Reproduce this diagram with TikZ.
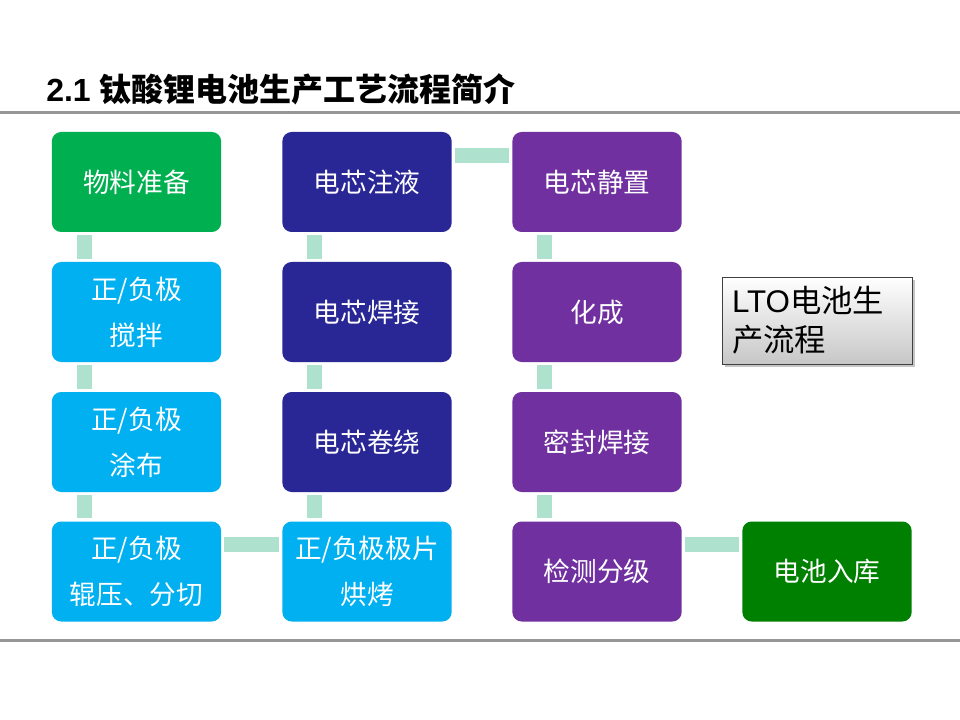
\documentclass[tikz,border=0pt]{standalone}
\usepackage{fontspec}
\setmainfont{Liberation Sans}
\newfontfamily\cjk{Noto Sans CJK SC}
\usetikzlibrary{calc,shadows}
\definecolor{cgreen}{HTML}{00B050}
\definecolor{clblue}{HTML}{00B0F0}
\definecolor{cdblue}{RGB}{41,38,149}
\definecolor{cpurple}{HTML}{7030A0}
\definecolor{cdgreen}{HTML}{008000}
\definecolor{connc}{RGB}{174,226,206}
\definecolor{rulegray}{RGB}{150,150,150}
\begin{document}
\begin{tikzpicture}[x=0.75pt,y=-0.75pt,
  stage/.style={rectangle, rounded corners=7pt, minimum width=127pt, minimum height=75pt,
    inner sep=0pt, text=white, align=center, font=\cjk\fontsize{20}{34.5}\selectfont},
  conn/.style={fill=connc, draw=none},
  rulestyle/.style={draw=rulegray, line width=2.25pt},
  notebox/.style={rectangle, draw=black!75, line width=0.6pt, top color=white, bottom color=black!22,
    drop shadow={shadow xshift=2pt, shadow yshift=-2pt, opacity=0.45},
    text width=127.5pt, inner xsep=7.5pt, minimum height=65.25pt, align=left,
    font=\fontsize{23.5}{29.5}\selectfont}]
\useasboundingbox (0,0) rectangle (960,720);
\fill[white] (0,0) rectangle (960,720);
% rules
\coordinate (tl) at (0,112.5); \coordinate (tr) at (960,112.5);
\coordinate (bl) at (0,640); \coordinate (br) at (960,640);
\draw[rulestyle] (tl) -- (tr);
\draw[rulestyle] (bl) -- (br);
% title
\node[anchor=west, inner sep=0pt, font=\bfseries\fontsize{24}{28}\selectfont] (title) at (46,89.5)
  {2.1 {\cjk 钛酸锂电池生产工艺流程简介}};
% column 1
\node[stage, fill=cgreen] (a1) at (136.5,182) {物料准备};
\node[stage, fill=clblue] (a2) at (136.5,312) {正/负极\\搅拌};
\node[stage, fill=clblue] (a3) at (136.5,442) {正/负极\\涂布};
\node[stage, fill=clblue] (a4) at (136.5,571.5) {正/负极\\辊压、分切};
% column 2
\node[stage, fill=cdblue] (b1) at (367,182) {电芯注液};
\node[stage, fill=cdblue] (b2) at (367,312) {电芯焊接};
\node[stage, fill=cdblue] (b3) at (367,442) {电芯卷绕};
\node[stage, fill=clblue] (b4) at (367,571.5) {正/负极极片\\烘烤};
% column 3
\node[stage, fill=cpurple] (c1) at (597,182) {电芯静置};
\node[stage, fill=cpurple] (c2) at (597,312) {化成};
\node[stage, fill=cpurple] (c3) at (597,442) {密封焊接};
\node[stage, fill=cpurple] (c4) at (597,571.5) {检测分级};
% column 4
\node[stage, fill=cdgreen] (d4) at (827,571.5) {电池入库};
% note
\node[notebox] (note) at (817,320.5) {LTO{\cjk 电池生}\\{\cjk 产流程}};
% connectors (vertical)
\foreach \u/\v in {a1/a2,a2/a3,a3/a4,b1/b2,b2/b3,b3/b4,c1/c2,c2/c3,c3/c4}{
  \fill[conn] ($(\u.south west)+(25,3)$) rectangle ($(\v.north west)+(40,-3)$);
}
% connectors (horizontal)
\foreach \u/\v in {a4/b4,b1/c1,c4/d4}{
  \fill[conn] ($(\u.north east)+(3,16)$) rectangle ($(\v.north west)+(-3,31)$);
}
\end{tikzpicture}
\end{document}
